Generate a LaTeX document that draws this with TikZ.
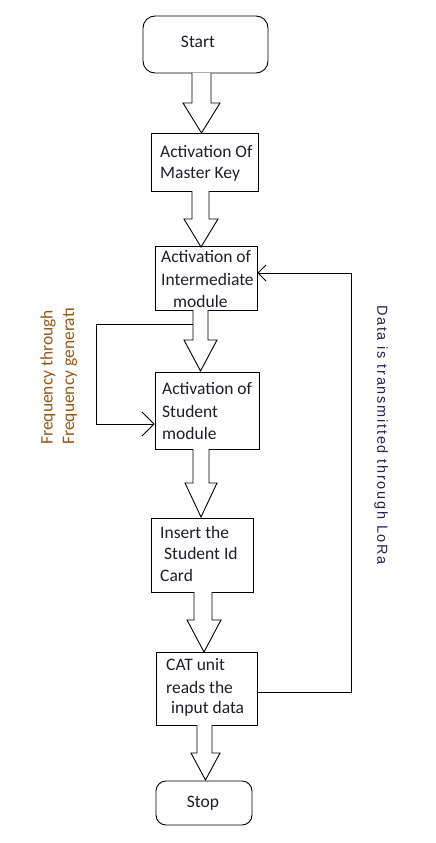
\documentclass[tikz,border=0pt]{standalone}
\usepackage{fontspec}
\setmainfont{Carlito}
\newfontfamily\rightfont[LetterSpace=12]{Liberation Sans}
\usetikzlibrary{arrows.meta}
\definecolor{boxtext}{RGB}{30,30,40}
\definecolor{lefttext}{RGB}{150,88,20}
\definecolor{righttext}{RGB}{35,35,85}
\tikzset{
  txt/.style={anchor=west, inner sep=0pt, text=boxtext, font=\fontsize{17.5}{21}\selectfont},
  ctxt/.style={inner sep=0pt, text=boxtext, font=\fontsize{17.5}{21}\selectfont},
  blk/.style={draw=black, line width=0.9pt, fill=white, line join=miter},
  link/.style={draw=black, line width=0.9pt},
  rect/.style={draw=black, line width=0.9pt, inner sep=0pt},
}
\begin{document}
\begin{tikzpicture}[x=1pt,y=-1pt]
\useasboundingbox (0,0) rectangle (436,843);
% boxes
\node[rect, rounded corners=12pt, minimum width=125pt, minimum height=57pt] (b1) at (205.5,44.5) {};
\node[rect, minimum width=107pt, minimum height=58pt] (b2) at (204.5,162) {};
\node[rect, minimum width=102pt, minimum height=64pt] (b3) at (206,278) {};
\node[rect, minimum width=104pt, minimum height=77pt] (b4) at (207,410.5) {};
\node[rect, minimum width=102pt, minimum height=74pt] (b5) at (202,555) {};
\node[rect, minimum width=101pt, minimum height=73pt] (b6) at (206.5,688.5) {};
\node[rect, rounded corners=10pt, minimum width=96pt, minimum height=44pt] (b7) at (204,803) {};
% texts
\node[ctxt] (t1) at (198,42) {Start};
\node[txt] (t2a) at (160,152) {Activation Of};
\node[txt] (t2b) at (160,174) {Master Key};
\node[txt] (t3a) at (161,257) {Activation of};
\node[txt] (t3b) at (161,279) {Intermediate};
\node[txt] (t3c) at (173,301) {module};
\node[txt] (t4a) at (162,389) {Activation of};
\node[txt] (t4b) at (162,411) {Student};
\node[txt] (t4c) at (162,433) {module};
\node[txt] (t5a) at (160,532) {Insert the};
\node[txt] (t5b) at (164,553) {Student Id};
\node[txt] (t5c) at (160,575) {Card};
\node[txt] (t6a) at (166,665) {CAT unit};
\node[txt] (t6b) at (166,687) {reads the};
\node[txt] (t6c) at (171,709) {input data};
\node[ctxt] (t7) at (203,803) {Stop};
% block arrows
\draw[blk] (192,73) -- (192,103) -- (183,103) -- (201.5,133) -- (220,103) -- (211,103) -- (211,73);
\draw[blk] (192,191) -- (192,219) -- (184,219) -- (201,247) -- (218,219) -- (209,219) -- (209,191);
\draw[blk] (193,310) -- (193,340) -- (184,340) -- (200.5,371) -- (217,340) -- (208,340) -- (208,310);
\draw[blk] (193,449) -- (193,483) -- (185,483) -- (201,517) -- (217,483) -- (209,483) -- (209,449);
\draw[blk] (194,592) -- (194,620) -- (187,620) -- (204,652) -- (221,620) -- (212,620) -- (212,592);
\draw[blk] (197,725) -- (197,753) -- (191,753) -- (205.5,780) -- (220,753) -- (212,753) -- (212,725);
% left feedback loop
\coordinate (l0) at (193,324);
\coordinate (l1) at (96,324);
\coordinate (l2) at (96,424);
\draw[link, -{Straight Barb[length=12pt,width=24pt,line width=0.9pt]}] (l0) -- (l1) -- (l2) -- (b4.west |- l2);
% right feedback loop
\coordinate (r1) at (351,692);
\coordinate (r2) at (351,273);
\draw[link, -{Straight Barb[length=8pt,width=16pt,line width=0.9pt]}] (b6.east |- r1) -- (r1) -- (r2) -- (b3.east |- r2);
% side labels
\node[rotate=90, anchor=west, inner sep=0pt, text=lefttext, font=\fontsize{17.5}{21}\selectfont] (f1) at (48,445) {Frequency through};
\node[rotate=90, anchor=west, inner sep=0pt, text=lefttext, font=\fontsize{17.5}{21}\selectfont] (f2) at (70,445) {Frequency generat\i};
\node[rotate=-90, anchor=west, inner sep=0pt, text=righttext, font=\rightfont\fontsize{14.5}{17}\selectfont] (d1) at (381,305) {Data is transmitted through LoRa};
\end{tikzpicture}
\end{document}
